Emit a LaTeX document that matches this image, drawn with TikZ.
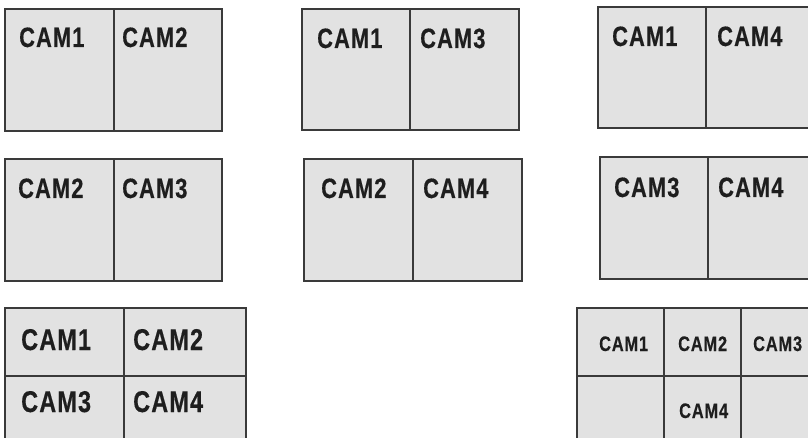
\documentclass[tikz,border=0pt]{standalone}
\usepackage{fontspec}
\setmainfont{Liberation Sans}[FakeStretch=0.78,LetterSpace=4,FakeBold=0.4]
\definecolor{cellfill}{HTML}{E2E2E2}
\definecolor{cellline}{HTML}{3A3A3A}
\definecolor{camtext}{HTML}{1E1E1E}
\begin{document}
\begin{tikzpicture}[x=1pt,y=-1pt,
  panel/.style={draw=cellline, fill=cellfill, line width=1.4pt},
  divider/.style={draw=cellline, line width=1.3pt},
  cam/.style={anchor=base west, inner sep=0pt, text=camtext, font=\fontsize{28}{28}\selectfont\bfseries},
  camL/.style={cam, font=\fontsize{30}{30}\selectfont\bfseries},
  camS/.style={cam, font=\fontsize{21}{21}\selectfont\bfseries}]
\useasboundingbox (0,0) rectangle (808,438);
\clip (0,0) rectangle (808,438);
% panel 1
\draw[panel] (5,9) rectangle (222,131);
\draw[divider] (114,9) -- (114,131);
\node[cam] (p1a) at (19,47) {CAM1};
\node[cam] (p1b) at (122,47) {CAM2};
% panel 2
\draw[panel] (302,9) rectangle (519,130);
\draw[divider] (410,9) -- (410,130);
\node[cam] (p2a) at (317,48) {CAM1};
\node[cam] (p2b) at (420,48) {CAM3};
% panel 3
\draw[panel] (598,7) rectangle (820,128);
\draw[divider] (706,7) -- (706,128);
\node[cam] (p3a) at (612,46) {CAM1};
\node[cam] (p3b) at (717,46) {CAM4};
% panel 4
\draw[panel] (5,159) rectangle (222,281);
\draw[divider] (114,159) -- (114,281);
\node[cam] (p4a) at (18,198) {CAM2};
\node[cam] (p4b) at (122,198) {CAM3};
% panel 5
\draw[panel] (304,159) rectangle (522,281);
\draw[divider] (413,159) -- (413,281);
\node[cam] (p5a) at (321,198) {CAM2};
\node[cam] (p5b) at (423,198) {CAM4};
% panel 6
\draw[panel] (600,157) rectangle (820,279);
\draw[divider] (708,157) -- (708,279);
\node[cam] (p6a) at (614,197) {CAM3};
\node[cam] (p6b) at (718,197) {CAM4};
% panel 7
\draw[panel] (5,308) rectangle (246,450);
\draw[divider] (124,308) -- (124,450);
\draw[divider] (5,376) -- (246,376);
\node[camL] (p7a) at (21,350) {CAM1};
\node[camL] (p7b) at (133,350) {CAM2};
\node[camL] (p7c) at (21,412) {CAM3};
\node[camL] (p7d) at (133,412) {CAM4};
% panel 8
\draw[panel] (577,308) rectangle (820,450);
\draw[divider] (664,308) -- (664,450);
\draw[divider] (741,308) -- (741,450);
\draw[divider] (577,376) -- (820,376);
\node[camS] (p8a) at (599,351) {CAM1};
\node[camS] (p8b) at (678,351) {CAM2};
\node[camS] (p8c) at (753,351) {CAM3};
\node[camS] (p8d) at (679,418) {CAM4};
\end{tikzpicture}
\end{document}
